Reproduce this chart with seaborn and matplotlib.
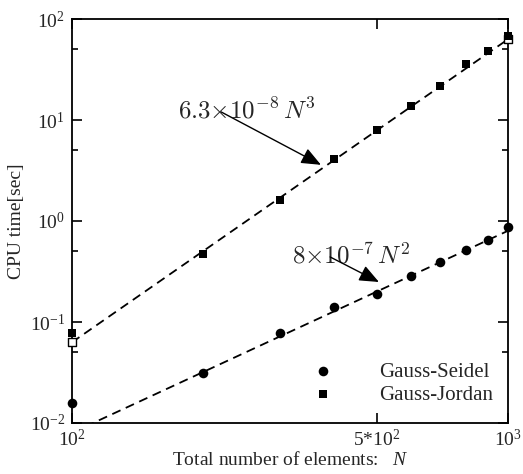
import numpy as np
import pandas as pd
import matplotlib
matplotlib.use("Agg")
import matplotlib.pyplot as plt
from matplotlib.ticker import FixedLocator, FixedFormatter, LogLocator, NullFormatter
import seaborn as sns

# ---- data ----
n_elements = [100, 200, 300, 400, 500, 600, 700, 800, 900, 1000]
gauss_seidel = [0.0158, 0.031, 0.078, 0.141, 0.189, 0.285, 0.393, 0.516, 0.65, 0.873]
gauss_jordan = [0.078, 0.47, 1.61, 4.1, 7.96, 13.8, 21.7, 35.8, 48.2, 68.0]
fit_n = [100, 1000]
fit_gj = [0.063, 63.0]       # 6.3e-8 N^3
fit_gs = [0.008, 0.8]        # 8e-7 N^2
x_ticks = [100, 500, 1000]
x_tick_labels = [r"$10^{2}$", r"5*$10^{2}$", r"$10^{3}$"]
y_ticks = [1e-2, 1e-1, 1e0, 1e1, 1e2]
y_tick_labels = [r"$10^{-2}$", r"$10^{-1}$", r"$10^{0}$", r"$10^{1}$", r"$10^{2}$"]

sns.set_style("ticks")
plt.rcParams["font.family"] = ["Liberation Serif", "DejaVu Serif"]
plt.rcParams["mathtext.fontset"] = "custom"
plt.rcParams["mathtext.rm"] = "Liberation Serif"
plt.rcParams["mathtext.it"] = "Liberation Serif:italic"
plt.rcParams["xtick.direction"] = "in"
plt.rcParams["ytick.direction"] = "in"

fig = plt.figure(figsize=(5.23, 4.74), dpi=100)
ax = fig.add_axes([72/523, 1-423/474, 436/523, 404/474])

df_gs = pd.DataFrame({"N": n_elements, "t": gauss_seidel})
df_gj = pd.DataFrame({"N": n_elements, "t": gauss_jordan})
df_fit = pd.DataFrame({"N": fit_n + fit_n, "t": fit_gj + fit_gs,
                       "fit": ["gj", "gj", "gs", "gs"]})

for key in ["gj", "gs"]:
    sub = df_fit[df_fit["fit"] == key]
    sns.lineplot(data=sub, x="N", y="t", ax=ax, color="black", lw=1.3,
                 linestyle=(0, (5, 3.2)), legend=False, zorder=2)

# open squares: fit endpoints
ax.scatter(fit_n, fit_gj, marker="s", s=30, facecolor="white",
           edgecolor="black", linewidth=1.0, zorder=3, clip_on=False)

sns.scatterplot(data=df_gs, x="N", y="t", ax=ax, marker="o", s=48,
                color="black", linewidth=0, label="Gauss-Seidel",
                zorder=4, clip_on=False)
sns.scatterplot(data=df_gj, x="N", y="t", ax=ax, marker="s", s=36,
                color="black", linewidth=0, label="Gauss-Jordan",
                zorder=4, clip_on=False)

ax.set_xscale("log")
ax.set_yscale("log")
ax.set_xlim(100, 1000)
ax.set_ylim(1e-2, 1e2)

ax.xaxis.set_major_locator(FixedLocator(x_ticks))
ax.xaxis.set_major_formatter(FixedFormatter(x_tick_labels))
ax.xaxis.set_minor_locator(FixedLocator([]))
ax.xaxis.set_minor_formatter(NullFormatter())
ax.yaxis.set_major_locator(FixedLocator(y_ticks))
ax.yaxis.set_major_formatter(FixedFormatter(y_tick_labels))
ax.yaxis.set_minor_locator(LogLocator(base=10, subs=[5.0]))
ax.yaxis.set_minor_formatter(NullFormatter())

for s in ax.spines.values():
    s.set_visible(True)
    s.set_linewidth(1.3)
    s.set_color("black")

ax.tick_params(which="both", direction="in", top=True, right=True,
               bottom=True, left=True, color="black", width=1.2)
ax.tick_params(which="major", direction="in", length=7.5, labelsize=14)
ax.tick_params(axis="y", which="major", direction="in", pad=5)
ax.tick_params(axis="x", which="major", direction="in", pad=4)
ax.tick_params(which="minor", direction="in", length=4.5)

ax.set_xlabel("Total number of elements:   $N$", fontsize=14, labelpad=1)
ax.set_ylabel("CPU time[sec]", fontsize=14, labelpad=3)

# annotations
arrow_kw = dict(arrowstyle="-|>,head_length=0.6,head_width=0.25",
                mutation_scale=20, lw=1.0, color="black",
                shrinkA=0, shrinkB=0)
ax.annotate("", xy=(0.571, 0.639), xytext=(0.342, 0.770),
            xycoords="axes fraction", textcoords="axes fraction",
            arrowprops=arrow_kw, zorder=5)
ax.annotate("", xy=(0.704, 0.349), xytext=(0.592, 0.411),
            xycoords="axes fraction", textcoords="axes fraction",
            arrowprops=arrow_kw, zorder=5)
ax.text(0.243, 0.755, r"$6.3{\times}10^{-8}\,N^3$", transform=ax.transAxes,
        fontsize=18, ha="left", va="baseline", math_fontfamily="cm", zorder=4)
ax.text(0.505, 0.396, r"$8{\times}10^{-7}\,N^2$", transform=ax.transAxes,
        fontsize=18, ha="left", va="baseline", math_fontfamily="cm", zorder=4)

ax.legend(loc="lower right", bbox_to_anchor=(0.99, 0.02), frameon=False,
          fontsize=15, handlelength=1.0, handletextpad=2.2,
          labelspacing=0.15, borderpad=0.0, markerscale=1.0)

fig.savefig("out.png", dpi=100)
